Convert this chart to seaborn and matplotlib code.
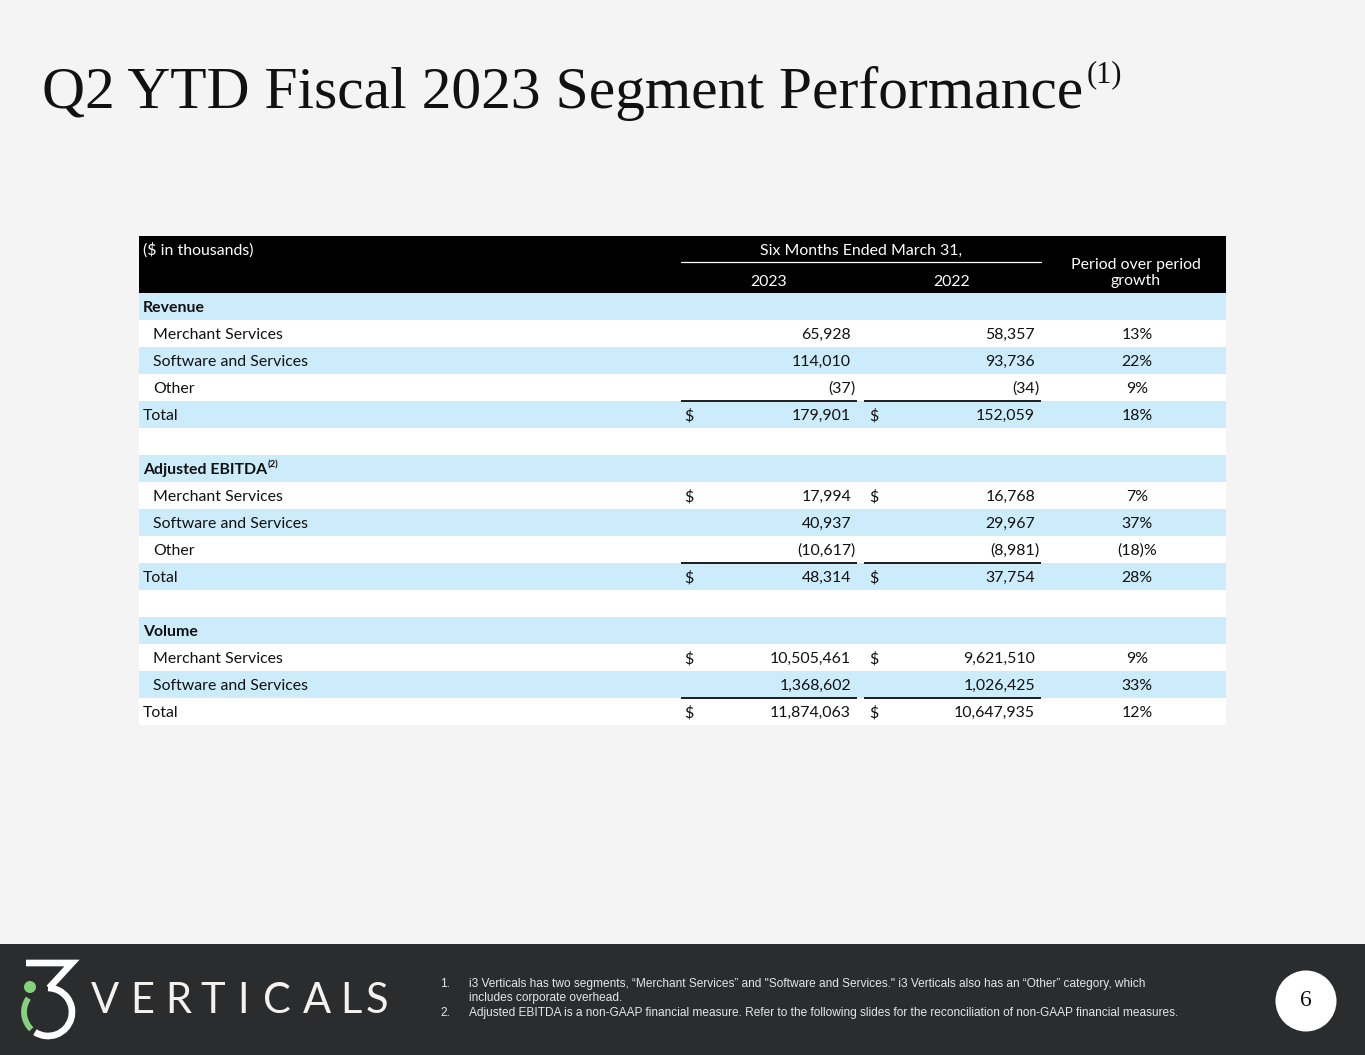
import numpy as np
import matplotlib
matplotlib.use('Agg')
import matplotlib.pyplot as plt
from matplotlib.patches import Rectangle, Circle, Arc
from matplotlib.colors import ListedColormap
import seaborn as sns

# ---- data ----
row_labels = ['Merchant Services', 'Software and Services', 'Other', 'Total']
vol_labels = ['Merchant Services', 'Software and Services', 'Total']

revenue_2023 = [65928, 114010, -37, 179901]
revenue_2022 = [58357, 93736, -34, 152059]
revenue_growth = [13, 22, 9, 18]

ebitda_2023 = [17994, 40937, -10617, 48314]
ebitda_2022 = [16768, 29967, -8981, 37754]
ebitda_growth = [7, 37, -18, 28]

volume_2023 = [10505461, 1368602, 11874063]
volume_2022 = [9621510, 1026425, 10647935]
volume_growth = [9, 33, 12]

years = ['2023', '2022']
footnotes = [
    ('1.', ['i3 Verticals has two segments, \u201cMerchant Services\u201d and "Software and Services." '
            'i3 Verticals also has an \u201cOther\u201d category, which',
            'includes corporate overhead.']),
    ('2.', ['Adjusted EBITDA is a non-GAAP financial measure. Refer to the following slides '
            'for the reconciliation of non-GAAP financial measures.']),
]

# sections: (title, superscript, labels, v2023, v2022, growth, rows with "$")
sections = [
    ('Revenue', None, row_labels, revenue_2023, revenue_2022, revenue_growth, [3]),
    ('Adjusted EBITDA', '(2)', row_labels, ebitda_2023, ebitda_2022, ebitda_growth, [0, 3]),
    ('Volume', None, vol_labels, volume_2023, volume_2022, volume_growth, [0, 2]),
]

BG = '#f4f4f4'
BLUE = '#cdecfb'
DARK = '#2b2c2e'
INK = '#111111'
BODY = 'Lato'
FS = 11.4
DY = 1.5  # nudge text down to sit like the slide

sns.set_theme(style='white')
plt.rcParams['font.family'] = [BODY, 'DejaVu Sans']

W, H = 1365, 1055
fig = plt.figure(figsize=(W / 100, H / 100), dpi=100, facecolor=BG)

# table geometry (pixels)
TL, TR = 139, 1226
HEAD_TOP, BODY_TOP, ROW_H = 236, 293, 27
n_rows = sum(1 + len(s[2]) for s in sections) + len(sections) - 1

# striped body rows via seaborn heatmap
stripes = np.array([[i % 2] for i in range(n_rows)])
hax = fig.add_axes([TL / W, 1 - (BODY_TOP + n_rows * ROW_H) / H,
                    (TR - TL) / W, n_rows * ROW_H / H])
sns.heatmap(stripes, ax=hax, cmap=ListedColormap([BLUE, 'white']), cbar=False,
            xticklabels=False, yticklabels=False, linewidths=0)

ax = fig.add_axes([0, 0, 1, 1])
ax.set_zorder(3)
ax.set_xlim(0, W)
ax.set_ylim(H, 0)
ax.axis('off')

renderer = fig.canvas.get_renderer()

# ---- title ----
title = ax.text(42, 108, 'Q2 YTD Fiscal 2023 Segment Performance', fontsize=46,
                family='Liberation Serif', color=INK, va='baseline', ha='left')
bb = title.get_window_extent(renderer)
title.set_fontsize(46 * 1041 / bb.width)
bb = title.get_window_extent(renderer)
ax.text(42 + bb.width + 3, 82, '(1)', fontsize=22, family='Liberation Serif',
        color=INK, va='baseline', ha='left')

# ---- header ----
ax.add_patch(Rectangle((TL, HEAD_TOP), TR - TL, BODY_TOP - HEAD_TOP, color='black', lw=0))
ax.text(143, 249 + DY, '($ in thousands)', color='white', fontsize=FS, va='center')
ax.text(861, 249 + DY, 'Six Months Ended March 31,', color='white', fontsize=FS,
        va='center', ha='center')
ax.plot([681, 1041], [262, 262], color='white', lw=0.9)
ax.text(769, 280 + DY, years[0], color='white', fontsize=FS, va='center', ha='center')
ax.text(952, 280 + DY, years[1], color='white', fontsize=FS, va='center', ha='center')
ax.text(1136, 263 + DY, 'Period over period', color='white', fontsize=FS, va='center', ha='center')
ax.text(1136, 280 + DY, 'growth', color='white', fontsize=FS, va='center', ha='center')

# ---- body ----
COLS = [(684, 851, 681, 857), (869, 1035, 864, 1041)]  # $ x, num right, line x0, x1


def put_number(x_right, y, v):
    if v < 0:
        ax.text(x_right, y, f'({-v:,}', fontsize=FS, color=INK, va='center', ha='right')
        ax.text(x_right, y, ')', fontsize=FS, color=INK, va='center', ha='left')
    else:
        ax.text(x_right, y, f'{v:,}', fontsize=FS, color=INK, va='center', ha='right')


r = 0
for si, (name, sup, labels, v23, v22, gr, dollar_rows) in enumerate(sections):
    y = BODY_TOP + r * ROW_H + ROW_H / 2 + DY
    t = ax.text(143, y, name, fontsize=FS, color=INK, va='center', fontweight='bold')
    if sup:
        tb = t.get_window_extent(renderer)
        ax.text(143 + tb.width + 1, y - 5, sup, fontsize=FS * 0.6, color=INK,
                va='center', fontweight='bold')
    r += 1
    for i, lab in enumerate(labels):
        y = BODY_TOP + r * ROW_H + ROW_H / 2 + DY
        is_total = lab == 'Total'
        ax.text(143 if is_total else 153, y, lab, fontsize=FS, color=INK, va='center')
        for (dx, xr, _, _), v in zip(COLS, (v23[i], v22[i])):
            if i in dollar_rows:
                ax.text(dx, y, '$', fontsize=FS, color=INK, va='center', ha='left')
            put_number(xr, y, v)
        g = gr[i]
        gtxt = f'({-g})%' if g < 0 else f'{g}%'
        ax.text(1137, y, gtxt, fontsize=FS, color=INK, va='center', ha='center')
        if i == len(labels) - 2:
            yl = BODY_TOP + (r + 1) * ROW_H
            for (_, _, x0, x1) in COLS:
                ax.plot([x0, x1], [yl, yl], color='#1c1c1c', lw=1.4, solid_capstyle='butt')
        r += 1
    r += 1  # spacer row

# ---- footer ----
ax.add_patch(Rectangle((0, 944), W, H - 944, color=DARK, lw=0))

GREEN = '#84d27c'
cx, cy, rad = 48, 1012, 24
ax.plot([26, 72, 49], [963, 963, 988], color='white', lw=4.8,
        solid_joinstyle='miter', solid_capstyle='butt')
ax.add_patch(Arc((cx, cy), 2 * rad, 2 * rad, theta1=-90, theta2=123,
                 color='white', lw=4.8))
ax.add_patch(Arc((cx, cy), 2 * rad, 2 * rad, theta1=-226, theta2=-145,
                 color=GREEN, lw=4.2))
ax.add_patch(Circle((30, 987), 6, color=GREEN, lw=0))

for ch, xc in zip('VERTICALS', [105, 142, 178, 213, 243, 277, 317, 351, 377]):
    ax.text(xc, 1013, ch, fontsize=30, family='Lato', fontweight='normal',
            color='#f4f1ee', ha='center', va='baseline')

fy = 984
for num, lines in footnotes:
    ax.text(440, fy, num, fontsize=8.55, family='Liberation Sans', color='#e6e6e6', va='center')
    for ln in lines:
        ax.text(469, fy, ln, fontsize=8.55, family='Liberation Sans', color='#e6e6e6', va='center')
        fy += 14.5

ax.add_patch(Circle((1306, 1001), 30.5, color='white', lw=0))
ax.text(1306, 1001, '6', fontsize=17, family='Liberation Serif', color=INK,
        ha='center', va='center')

fig.savefig('out.png', dpi=100, facecolor=BG)
